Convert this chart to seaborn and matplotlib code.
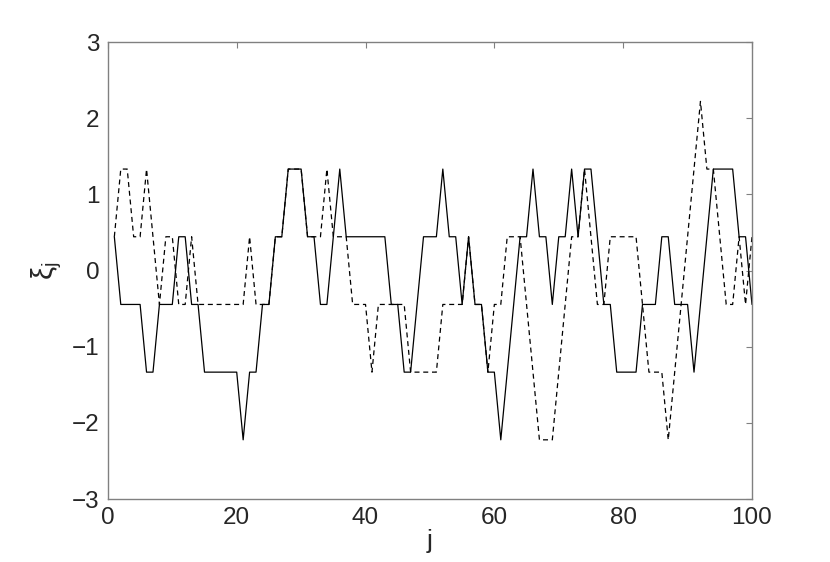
import numpy as np
import pandas as pd
import matplotlib
matplotlib.use("Agg")
import matplotlib.pyplot as plt
import seaborn as sns

# quantised levels
a, b, c = 4 / 9, 12 / 9, 20 / 9

j = list(range(1, 101))

xi_solid = [a, -a, -a, -a, -a, -b, -b, -a, -a, -a,
            a, a, -a, -a, -b, -b, -b, -b, -b, -b,
            -c, -b, -b, -a, -a, a, a, b, b, b,
            a, a, -a, -a, a, b, a, a, a, a,
            a, a, a, -a, -a, -b, -b, -a, a, a,
            a, b, a, a, -a, a, -a, -a, -b, -b,
            -c, -b, -a, a, a, b, a, a, -a, a,
            a, b, a, b, b, a, -a, -a, -b, -b,
            -b, -b, -a, -a, -a, a, a, -a, -a, -a,
            -b, -a, a, b, b, b, b, a, a, -a]

xi_dashed = [a, b, b, a, a, b, a, -a, a, a,
             -a, -a, a, -a, -a, -a, -a, -a, -a, -a,
             -a, a, -a, -a, -a, a, a, b, b, b,
             a, a, a, b, a, a, a, -a, -a, -a,
             -b, -a, -a, -a, -a, -a, -b, -b, -b, -b,
             -b, -a, -a, -a, -a, a, -a, -a, -b, -a,
             -a, a, a, a, -a, -b, -c, -c, -c, -b,
             -a, a, a, b, a, -a, -a, a, a, a,
             a, a, -a, -b, -b, -b, -c, -b, -a, a,
             b, c, b, b, a, -a, -a, a, -a, a]

df = pd.concat([
    pd.DataFrame({"j": j, "xi": xi_solid, "run": "solid"}),
    pd.DataFrame({"j": j, "xi": xi_dashed, "run": "dashed"}),
])

sns.set_style("white")
plt.rcParams["font.family"] = ["Liberation Sans", "DejaVu Sans"]
plt.rcParams["mathtext.fontset"] = "custom"
plt.rcParams["mathtext.rm"] = "Liberation Sans"
plt.rcParams["mathtext.it"] = "Liberation Sans"

fig = plt.figure(figsize=(8.3, 5.62), dpi=100)
ax = fig.add_axes([0.130, 0.112, 0.776, 0.813])

sns.lineplot(data=df, x="j", y="xi", style="run", color="black",
             dashes={"solid": "", "dashed": (4, 3)}, linewidth=0.9,
             legend=False, ax=ax)

ax.set_xlim(0, 100)
ax.set_ylim(-3, 3)
ax.set_xticks(range(0, 101, 20))
ax.set_yticks(range(-3, 4))
ax.tick_params(direction="in", length=4.5, width=0.8, color="#808080",
               labelsize=17.5, top=True, right=True, pad=6)
for s in ax.spines.values():
    s.set_color("#808080")
    s.set_linewidth(1.0)
ax.set_xlabel("j", fontsize=19, labelpad=0)
ax.set_ylabel(r"$\xi_\mathrm{j}$", fontsize=21, labelpad=6)

fig.savefig("out.png", dpi=100)
